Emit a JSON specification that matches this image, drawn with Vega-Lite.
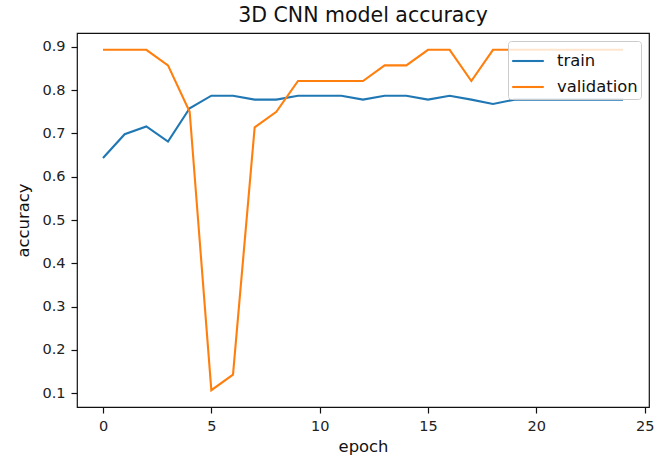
{
  "$schema": "https://vega.github.io/schema/vega-lite/v6.json",
  "width": 572,
  "height": 374,
  "autosize": "none",
  "padding": {"left": 77, "top": 33, "right": 8, "bottom": 58},
  "background": "white",
  "title": {"text": "3D CNN model accuracy", "fontSize": 20.5, "font": "DejaVu Sans", "fontWeight": "normal", "color": "#111", "offset": 7},
  "config": {
    "font": "DejaVu Sans",
    "view": {"stroke": "#111", "strokeWidth": 1.2},
    "axis": {"grid": false, "domain": false, "tickColor": "#111", "tickSize": 6, "tickWidth": 1.2, "labelFontSize": 14.5, "labelColor": "#222", "titleFontSize": 16.4, "titleFontWeight": "normal", "titleColor": "#111", "labelPadding": 6}
  },
  "data": {
    "values": [
      {"epoch": 0, "series": "train", "accuracy": 0.643},
      {"epoch": 1, "series": "train", "accuracy": 0.698},
      {"epoch": 2, "series": "train", "accuracy": 0.716},
      {"epoch": 3, "series": "train", "accuracy": 0.681},
      {"epoch": 4, "series": "train", "accuracy": 0.758},
      {"epoch": 5, "series": "train", "accuracy": 0.787},
      {"epoch": 6, "series": "train", "accuracy": 0.787},
      {"epoch": 7, "series": "train", "accuracy": 0.778},
      {"epoch": 8, "series": "train", "accuracy": 0.778},
      {"epoch": 9, "series": "train", "accuracy": 0.787},
      {"epoch": 10, "series": "train", "accuracy": 0.787},
      {"epoch": 11, "series": "train", "accuracy": 0.787},
      {"epoch": 12, "series": "train", "accuracy": 0.778},
      {"epoch": 13, "series": "train", "accuracy": 0.787},
      {"epoch": 14, "series": "train", "accuracy": 0.787},
      {"epoch": 15, "series": "train", "accuracy": 0.778},
      {"epoch": 16, "series": "train", "accuracy": 0.787},
      {"epoch": 17, "series": "train", "accuracy": 0.778},
      {"epoch": 18, "series": "train", "accuracy": 0.768},
      {"epoch": 19, "series": "train", "accuracy": 0.778},
      {"epoch": 20, "series": "train", "accuracy": 0.778},
      {"epoch": 21, "series": "train", "accuracy": 0.778},
      {"epoch": 22, "series": "train", "accuracy": 0.778},
      {"epoch": 23, "series": "train", "accuracy": 0.778},
      {"epoch": 24, "series": "train", "accuracy": 0.778},
      {"epoch": 0, "series": "validation", "accuracy": 0.893},
      {"epoch": 1, "series": "validation", "accuracy": 0.893},
      {"epoch": 2, "series": "validation", "accuracy": 0.893},
      {"epoch": 3, "series": "validation", "accuracy": 0.857},
      {"epoch": 4, "series": "validation", "accuracy": 0.75},
      {"epoch": 5, "series": "validation", "accuracy": 0.107},
      {"epoch": 6, "series": "validation", "accuracy": 0.143},
      {"epoch": 7, "series": "validation", "accuracy": 0.714},
      {"epoch": 8, "series": "validation", "accuracy": 0.75},
      {"epoch": 9, "series": "validation", "accuracy": 0.821},
      {"epoch": 10, "series": "validation", "accuracy": 0.821},
      {"epoch": 11, "series": "validation", "accuracy": 0.821},
      {"epoch": 12, "series": "validation", "accuracy": 0.821},
      {"epoch": 13, "series": "validation", "accuracy": 0.857},
      {"epoch": 14, "series": "validation", "accuracy": 0.857},
      {"epoch": 15, "series": "validation", "accuracy": 0.893},
      {"epoch": 16, "series": "validation", "accuracy": 0.893},
      {"epoch": 17, "series": "validation", "accuracy": 0.821},
      {"epoch": 18, "series": "validation", "accuracy": 0.893},
      {"epoch": 19, "series": "validation", "accuracy": 0.893},
      {"epoch": 20, "series": "validation", "accuracy": 0.893},
      {"epoch": 21, "series": "validation", "accuracy": 0.893},
      {"epoch": 22, "series": "validation", "accuracy": 0.893},
      {"epoch": 23, "series": "validation", "accuracy": 0.893},
      {"epoch": 24, "series": "validation", "accuracy": 0.893}
    ]
  },
  "mark": {"type": "line", "strokeWidth": 2.1, "clip": true},
  "encoding": {
    "x": {"field": "epoch", "type": "quantitative", "scale": {"domain": [-1.2, 25.2], "nice": false, "zero": false},
      "axis": {"values": [0, 5, 10, 15, 20, 25], "title": "epoch", "titlePadding": 6}},
    "y": {"field": "accuracy", "type": "quantitative", "scale": {"domain": [0.0682, 0.9318], "nice": false, "zero": false},
      "axis": {"values": [0.1, 0.2, 0.3, 0.4, 0.5, 0.6, 0.7, 0.8, 0.9], "format": ".1f", "title": "accuracy", "titlePadding": 10}},
    "color": {"field": "series", "type": "nominal",
      "scale": {"domain": ["train", "validation"], "range": ["#1f77b4", "#ff7f0e"]},
      "legend": {"title": null, "orient": "top-right", "offset": 8, "symbolType": "stroke", "symbolSize": 1000, "symbolStrokeWidth": 2.1,
        "labelFontSize": 16.4, "labelColor": "#111", "rowPadding": -4, "symbolOffset": 0, "labelOffset": 12,
        "fillColor": "rgba(255,255,255,0.8)", "strokeColor": "#ccc", "cornerRadius": 3, "padding": 3}}
  }
}
